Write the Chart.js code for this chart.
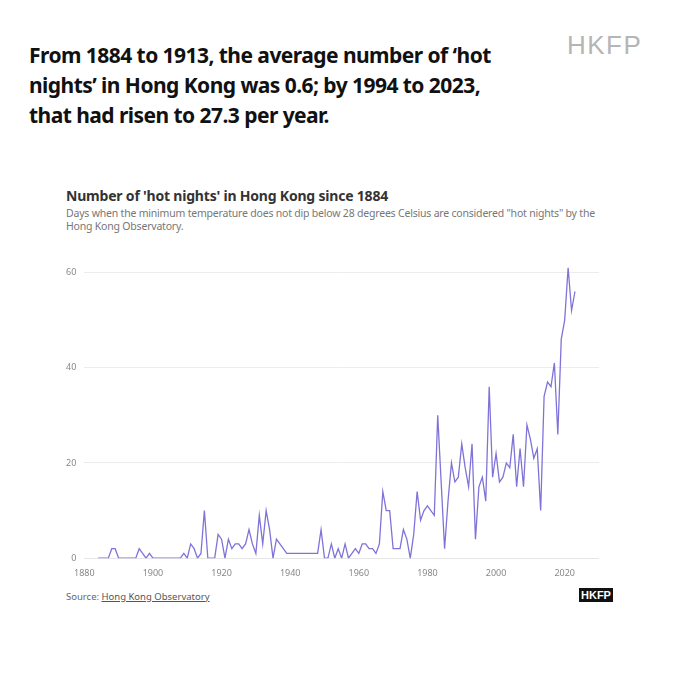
<!DOCTYPE html>
<html><head><meta charset="utf-8">
<script src="https://cdn.jsdelivr.net/npm/chart.js@4"></script>
<style>
body{margin:0;width:680px;height:680px;background:#fff;position:relative;font-family:"Noto Sans",sans-serif;overflow:hidden}
#head{position:absolute;left:29px;top:40px;font-weight:700;font-size:21px;line-height:30px;color:#111;letter-spacing:-0.55px}
#logo{position:absolute;left:567px;top:30px;font-size:26px;color:#b5b5b5;font-family:"Liberation Sans",sans-serif;letter-spacing:1.5px}
#t{position:absolute;left:66px;top:186px;font-weight:700;font-size:14px;color:#333;letter-spacing:-0.2px}
#s{position:absolute;left:66px;top:207px;font-size:10.5px;color:#777;line-height:13px;width:545px;letter-spacing:-0.2px}
#src{position:absolute;left:66px;top:590px;font-size:9.5px;color:#666}
#src u{color:#555}
#b{position:absolute;left:579px;top:588px;background:#111;color:#fff;font-size:11px;font-weight:700;padding:1px 2px;font-family:"Liberation Sans",sans-serif}
#c{position:absolute;left:58px;top:240px}
</style></head><body>
<div id="head">From 1884 to 1913, the average number of ‘hot<br>nights’ in Hong Kong was 0.6; by 1994 to 2023,<br>that had risen to 27.3 per year.</div>
<div id="logo">HKFP</div>
<div id="t">Number of 'hot nights' in Hong Kong since 1884</div>
<div id="s">Days when the minimum temperature does not dip below 28 degrees Celsius are considered "hot nights" by the Hong Kong Observatory.</div>
<div id="src">Source: <u>Hong Kong Observatory</u></div>
<div id="b">HKFP</div>
<div id="c" style="width:541px;height:341px"><canvas id="cv"></canvas></div>
<script>
const startYear = 1884;
const hotNights = [0,0,0,0,2,2,0,0,0,0,0,0,2,1,0,1,0,0,0,0,0,0,0,0,0,1,0,3,2,0,1,10,0,0,0,5,4,0,4,2,3,3,2,3,6,3,1,9,3,10,6,0,4,3,2,1,1,1,1,1,1,1,1,1,1,6,0,0,3,0,2,0,3,0,1,2,1,3,3,2,2,1,3,14,10,10,2,2,2,6,4,0,5,14,8,10,11,10,9,30,16,2,12,20,16,17,24,19,15,24,4,15,17,12,36,17,22,16,17,20,19,26,15,23,15,28,25,21,23,10,34,37,36,41,26,46,50,61,52,56];
const yTicks = [0,20,40,60];
const xTicks = [1880,1900,1920,1940,1960,1980,2000,2020];
const pts = hotNights.map((v,i)=>({x:startYear+i,y:v}));
new Chart(document.getElementById('cv'),{
 type:'line',
 data:{datasets:[{data:pts,borderColor:'#7f73d8',borderWidth:1.3,pointRadius:0,tension:0}]},
 options:{responsive:true,maintainAspectRatio:false,animation:false,
  plugins:{legend:{display:false},tooltip:{enabled:false}},
  scales:{
   x:{type:'linear',min:1880,max:2030,afterBuildTicks:a=>{a.ticks=xTicks.map(v=>({value:v}))},
      grid:{display:false},border:{color:'#e6e6e6'},
      ticks:{color:'#888',font:{size:9,family:'Noto Sans'},maxRotation:0,padding:2,callback:v=>String(v)}},
   y:{min:0,max:64,afterBuildTicks:a=>{a.ticks=yTicks.map(v=>({value:v}))},
      grid:{color:'#ececec',drawTicks:false},border:{display:false},
      ticks:{color:'#888',font:{size:9,family:'Noto Sans'},padding:8}}
  }}
});
</script></body></html>
